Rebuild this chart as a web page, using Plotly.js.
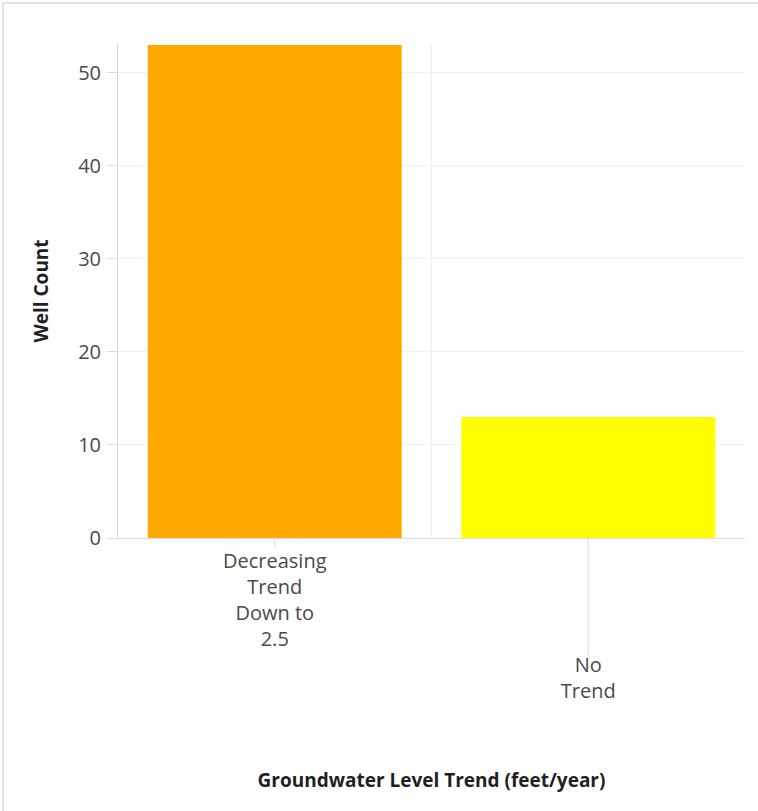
<!DOCTYPE html>
<html>
<head>
<meta charset="utf-8">
<script src="https://cdn.plot.ly/plotly-3.0.1.min.js"></script>
<style>
  html, body { margin: 0; padding: 0; background: #fff; }
  #wrap { position: relative; width: 758px; height: 811px; overflow: hidden; }
  #chart { width: 758px; height: 811px; }
  #frame { position: absolute; left: 2px; top: 2px; width: 800px; height: 900px;
           border: 2px solid #e3e3e3; pointer-events: none; box-sizing: border-box; }
</style>
</head>
<body>
<div id="wrap">
  <div id="chart"></div>
  <div id="frame"></div>
</div>
<script>
// Data
const categories = ["Decreasing Trend Down to 2.5", "No Trend"];
const tickLabels = ["Decreasing<br>Trend<br>Down to<br>2.5", "\u00a0<br>\u00a0<br>\u00a0<br>\u00a0<br>No<br>Trend"];
const wellCounts = [53, 13];
const barColors = ["#FFAA00", "#FFFF00"];
const yTicks = [0, 10, 20, 30, 40, 50];

const fontFamily = "'Open Sans', 'Noto Sans', sans-serif";

const trace = {
  type: "bar",
  x: categories,
  y: wellCounts,
  marker: { color: barColors, line: { width: 0 } },
  hoverinfo: "x+y"
};

const plotH = 538 - 44;
const shapes = [
  { type: "line", xref: "x", yref: "paper", x0: categories[0], x1: categories[0],
    y0: 0, y1: -10 / plotH, line: { color: "#d9d9d9", width: 1 } },
  { type: "line", xref: "x", yref: "paper", x0: categories[1], x1: categories[1],
    y0: 0, y1: -(655 - 538) / plotH, line: { color: "#d9d9d9", width: 1 } }
];

const layout = {
  width: 758,
  height: 811,
  margin: { l: 118, r: 13, t: 44, b: 273 },
  paper_bgcolor: "#ffffff",
  plot_bgcolor: "#ffffff",
  font: { family: fontFamily, color: "#4a4a4a", size: 20 },
  bargap: 0.19,
  showlegend: false,
  xaxis: {
    type: "category",
    tickmode: "array",
    tickvals: categories,
    ticktext: tickLabels,
    tickson: "boundaries",
    ticks: "",
    showgrid: true,
    gridcolor: "#efefef",
    gridwidth: 1,
    showline: true,
    linecolor: "#dcdcdc",
    linewidth: 1,
    zeroline: false,
    tickfont: { family: fontFamily, size: 20, color: "#4a4a4a" },
    ticklabelstandoff: 5,
    automargin: false,
    title: {
      text: "Groundwater Level Trend (feet/year)",
      font: { family: fontFamily, size: 19, color: "#1f1f1f", weight: "bold" },
      standoff: 70
    }
  },
  yaxis: {
    range: [0, 53.1],
    tickmode: "array",
    tickvals: yTicks,
    ticktext: yTicks.map(String),
    ticks: "outside",
    ticklen: 10,
    tickcolor: "#dcdcdc",
    showgrid: true,
    gridcolor: "#f2f2f2",
    showline: true,
    linecolor: "#d6d6d6",
    linewidth: 1,
    zeroline: false,
    tickfont: { family: fontFamily, size: 20, color: "#4a4a4a" },
    ticklabelstandoff: 2,
    automargin: false,
    title: {
      text: "Well Count",
      font: { family: fontFamily, size: 19, color: "#1f1f1f", weight: "bold" },
      standoff: 24
    }
  },
  shapes: shapes
};

Plotly.newPlot("chart", [trace], layout, { displayModeBar: false, staticPlot: true });
</script>
</body>
</html>
